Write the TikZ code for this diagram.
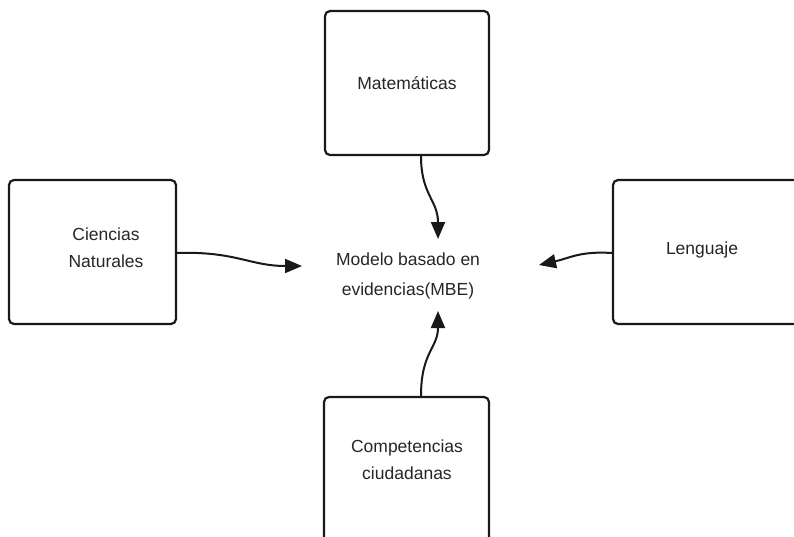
\documentclass[tikz,border=0pt]{standalone}
\usepackage{fontspec}
\setmainfont{Liberation Sans}
\usetikzlibrary{arrows.meta}
\begin{document}
\begin{tikzpicture}[x=1pt,y=-1pt,
  box/.style={draw=black!90,line width=2.2pt,rounded corners=5pt,fill=white,
    align=center,font=\fontsize{17.5}{27}\selectfont,text=black!85,inner sep=0pt},
  lbl/.style={align=center,text=black!85},
  conn/.style={line width=2pt,black!90,-{Triangle[length=17pt,width=14pt]}}]
\useasboundingbox[fill=white] (0,0) rectangle (794,536);
\clip (0,0) rectangle (794,536);
\node[box,minimum width=164pt,minimum height=144pt] (mat) at (407,83) {Matemáticas};
\node[box,minimum width=167pt,minimum height=144pt] (cn) at (92.5,252) {};
\node[lbl,font=\fontsize{17.5}{27}\selectfont] (cnl) at (106,248) {Ciencias\\Naturales};
\node[box,minimum width=200pt,minimum height=144pt] (len) at (713,252) {};
\node[lbl,font=\fontsize{17.5}{27}\selectfont] (lenl) at (702,250) {Lenguaje};
\node[box,minimum width=165pt,minimum height=160pt] (cc) at (406.5,477) {};
\node[lbl,font=\fontsize{17.5}{27}\selectfont] (ccl) at (407,460) {Competencias\\ciudadanas};
\node[lbl,font=\fontsize{17.5}{30}\selectfont] (mbe) at (408,276) {Modelo basado en\\evidencias(MBE)};
\coordinate (t1) at (438,239);
\coordinate (t2) at (302,266);
\coordinate (t3) at (539,265);
\coordinate (t4) at (438,311);
\draw[conn] ([xshift=14pt]mat.south) .. controls (421,195) and (438,200) .. (t1);
\draw[conn] ([yshift=-1pt]cn.east) .. controls (235,251) and (250,266) .. (t2);
\draw[conn] ([yshift=-1pt]len.west) .. controls (580,251) and (570,258) .. (t3);
\draw[conn] ([xshift=14.5pt]cc.north) .. controls (421,352) and (438,348) .. (t4);
\end{tikzpicture}
\end{document}
